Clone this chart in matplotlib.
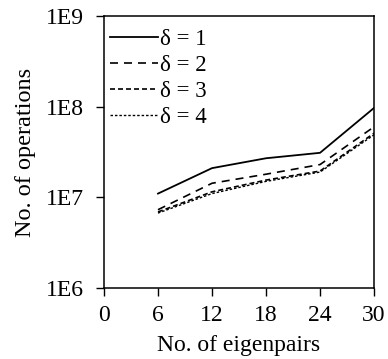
import numpy as np
import matplotlib.pyplot as plt

eigenpairs = [6, 12, 18, 24, 30]
ops_d1 = [1.1e7, 2.1e7, 2.7e7, 3.1e7, 9.7e7]
ops_d2 = [7.3e6, 1.43e7, 1.8e7, 2.3e7, 6.0e7]
ops_d3 = [6.9e6, 1.15e7, 1.55e7, 1.95e7, 5.1e7]
ops_d4 = [6.7e6, 1.1e7, 1.5e7, 1.9e7, 4.9e7]
labels = ["δ = 1", "δ = 2", "δ = 3", "δ = 4"]

yticks = [1e6, 1e7, 1e8, 1e9]
ytick_labels = ["1E6", "1E7", "1E8", "1E9"]
xticks = [0, 6, 12, 18, 24, 30]

plt.rcParams['font.family'] = ['Liberation Serif', 'DejaVu Serif']

fig = plt.figure(figsize=(3.88, 3.59), dpi=100)
ax = fig.add_axes([0.268, 0.198, 0.696, 0.757])

ax.plot(eigenpairs, ops_d1, color='black', lw=1.3, linestyle='-', label=labels[0])
ax.plot(eigenpairs, ops_d2, color='black', lw=1.2, linestyle=(0, (4.8, 3.6)), label=labels[1])
ax.plot(eigenpairs, ops_d3, color='black', lw=1.2, linestyle=(0, (3, 1.8)), label=labels[2])
ax.plot(eigenpairs, ops_d4, color='black', lw=1.0, linestyle=(0, (1.8, 1.4)), label=labels[3])

ax.set_yscale('log')
ax.set_xlim(0, 30)
ax.set_ylim(1e6, 1e9)
ax.set_yticks(yticks)
ax.set_yticklabels(ytick_labels)
ax.minorticks_off()
ax.set_xticks(xticks)
ax.tick_params(direction='out', length=6, width=1, labelsize=17, pad=6.5)
ax.tick_params(axis='y', pad=8.5)

for s in ax.spines.values():
    s.set_linewidth(1.1)

ax.set_xlabel("No. of eigenpairs", fontsize=17, labelpad=6)
ax.set_ylabel("No. of operations", fontsize=17.5, labelpad=7)

ax.legend(loc='upper left', bbox_to_anchor=(0.005, 0.971), frameon=False,
          fontsize=16.5, handlelength=2.1, handletextpad=0.1,
          labelspacing=0.22, borderaxespad=0, borderpad=0.2)

fig.savefig('out.png', dpi=100)
